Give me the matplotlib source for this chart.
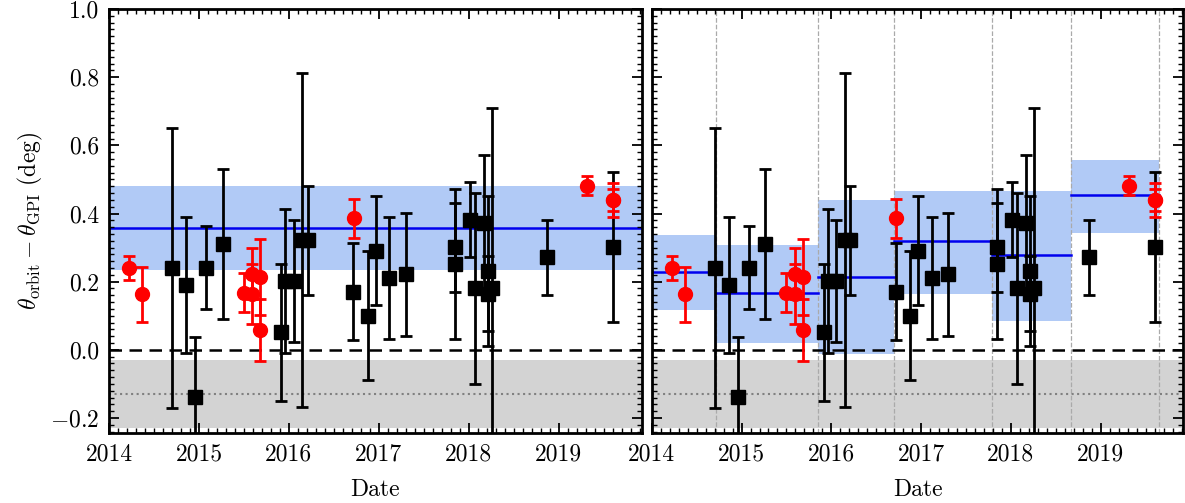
import numpy as np
import matplotlib
matplotlib.use("Agg")
import matplotlib.pyplot as plt
from matplotlib.ticker import MultipleLocator

plt.rcParams.update({
    "font.family": "serif",
    "font.serif": ["cmr10"],
    "mathtext.fontset": "cm",
    "axes.formatter.use_mathtext": True,
    "font.size": 17,
    "axes.linewidth": 2.0,
    "xtick.direction": "in",
    "ytick.direction": "in",
    "xtick.top": True,
    "ytick.right": True,
    "xtick.major.size": 7,
    "ytick.major.size": 7,
    "xtick.minor.size": 3.5,
    "ytick.minor.size": 3.5,
    "xtick.major.width": 1.3,
    "ytick.major.width": 1.3,
    "xtick.minor.width": 1.0,
    "ytick.minor.width": 1.0,
    "xtick.major.pad": 7,
    "ytick.major.pad": 7,
})

# GPI-only epochs (black squares)
black_date = [2014.70, 2014.86, 2014.96, 2015.08, 2015.265, 2015.916, 2015.96,
              2016.057, 2016.15, 2016.21, 2016.715, 2016.876, 2016.97, 2017.117,
              2017.296, 2017.843, 2017.843, 2018.01, 2018.066, 2018.17, 2018.215,
              2018.215, 2018.26, 2018.87, 2019.60]
black_val = [0.24, 0.19, -0.139, 0.241, 0.31, 0.051, 0.202,
             0.202, 0.322, 0.322, 0.171, 0.10, 0.291, 0.211,
             0.221, 0.301, 0.252, 0.381, 0.181, 0.371, 0.23,
             0.164, 0.181, 0.271, 0.301]
black_err = [0.41, 0.20, 0.178, 0.121, 0.22, 0.20, 0.21,
             0.18, 0.49, 0.16, 0.141, 0.19, 0.16, 0.18,
             0.18, 0.13, 0.22, 0.11, 0.28, 0.20, 0.22,
             0.11, 0.53, 0.11, 0.22]

# red circles
red_date = [2014.22, 2014.365, 2015.50, 2015.59, 2015.59, 2015.68, 2015.68,
            2016.72, 2019.31, 2019.60, 2019.60]
red_val = [0.24, 0.163, 0.168, 0.223, 0.163, 0.213, 0.059,
           0.386, 0.482, 0.44, 0.44]
red_err = [0.035, 0.08, 0.057, 0.075, 0.088, 0.112, 0.091,
           0.058, 0.027, 0.05, 0.033]

# global offset (left panel)
mean_all = 0.357
mean_all_err = 0.124

# per-epoch offsets (right panel)
seg_edges = [2013.9, 2014.711, 2015.849, 2016.693, 2017.786, 2018.667, 2019.644]
seg_mean = [0.228, 0.166, 0.213, 0.318, 0.277, 0.453]
seg_lo = [0.117, 0.021, -0.013, 0.164, 0.085, 0.344]
seg_hi = [0.337, 0.308, 0.440, 0.466, 0.466, 0.557]

# reference band
ref_center = -0.13
ref_half = 0.10

fig = plt.figure(figsize=(11.85, 5.03), dpi=100)
ax1 = fig.add_axes([0.092, 0.1386, 0.4494, 0.8434])
ax2 = fig.add_axes([0.550, 0.1386, 0.4486, 0.8434])

band_col = "#b1caf6"

for ax in (ax1, ax2):
    ax.axhspan(ref_center - ref_half, ref_center + ref_half, color="#d3d3d3", lw=0, zorder=0)
    ax.axhline(ref_center, color="gray", ls=":", lw=1.5, zorder=1)
    ax.axhline(0.0, color="black", ls=(0, (5, 3)), lw=1.8, zorder=1)

ax1.axhspan(mean_all - mean_all_err, mean_all + mean_all_err, color=band_col, lw=0, zorder=0.5)
ax1.axhline(mean_all, color="#0000ee", lw=1.8, zorder=1)

for i in range(len(seg_mean)):
    x0, x1 = seg_edges[i], seg_edges[i + 1]
    ax2.fill_between([x0, x1], seg_lo[i], seg_hi[i], color=band_col, lw=0, zorder=0.5)
    ax2.plot([x0, x1], [seg_mean[i], seg_mean[i]], color="#0000ee", lw=1.8, zorder=1)
for x in seg_edges[1:]:
    ax2.axvline(x, color="#aaaaaa", ls="--", lw=0.9, zorder=0.8)

for ax in (ax1, ax2):
    ax.errorbar(black_date, black_val, yerr=black_err, fmt="s", color="black",
                ms=10, elinewidth=2, capsize=4.5, capthick=2, zorder=3)
    ax.errorbar(red_date, red_val, yerr=red_err, fmt="o", color="red",
                ms=10, elinewidth=2, capsize=4.5, capthick=2, zorder=4)
    ax.set_xlim(2014.0, 2019.92)
    ax.set_ylim(-0.245, 1.0)
    ax.xaxis.set_major_locator(MultipleLocator(1))
    ax.xaxis.set_minor_locator(MultipleLocator(0.1))
    ax.yaxis.set_major_locator(MultipleLocator(0.2))
    ax.yaxis.set_minor_locator(MultipleLocator(0.02))
    ax.tick_params(which="both", top=True, right=True)
    ax.set_xlabel("Date", labelpad=10)
    ax.xaxis.set_major_formatter(plt.FuncFormatter(lambda v, p: f"{v:.0f}"))

ax1.yaxis.set_major_formatter(plt.FuncFormatter(
    lambda v, p: (r"$-$" if v < -1e-9 else "") + f"{abs(v):.1f}"))
ax2.set_yticklabels([])
ax1.set_ylabel(r"$\theta_{\rm orbit} - \theta_{\rm GPI}$ (deg)")

fig.savefig("out.png", dpi=100)
